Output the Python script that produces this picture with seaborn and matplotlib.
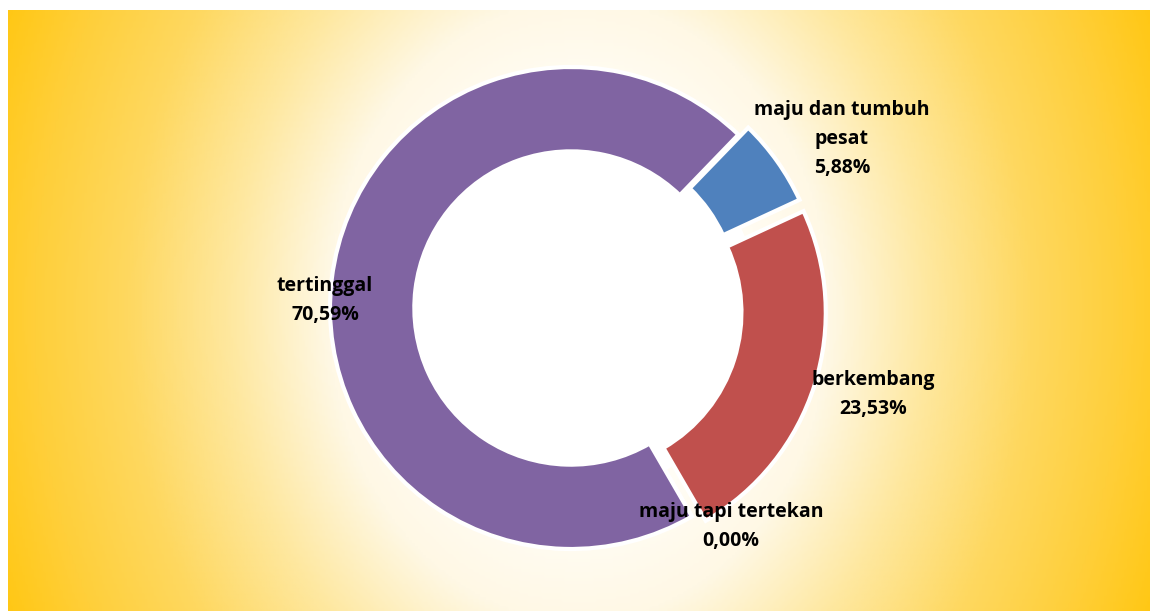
import numpy as np
import pandas as pd
import seaborn as sns
import matplotlib.pyplot as plt
from matplotlib.colors import LinearSegmentedColormap
from matplotlib.patches import Circle

# kategori dan persentase
categories = ["maju dan tumbuh\npesat", "berkembang", "maju tapi tertekan", "tertinggal"]
values = [5.88, 23.53, 0.00, 70.59]
colors = ["#4F81BD", "#C0504D", "#9BBB59", "#8064A2"]
explode = [0.05, 0.06, 0.0, 0.0]
# posisi label (data coords, radius = 1)
label_xy = [(1.124, 0.70), (1.253, -0.36), (0.664, -0.905), (-1.021, 0.03)]

df = pd.DataFrame({"kategori": categories, "persen": values})

sns.set_theme(style="white")
plt.rcParams["font.family"] = ["Open Sans", "DejaVu Sans"]

W, H = 1150, 611
fig = plt.figure(figsize=(W / 100, H / 100), dpi=100)
fig.patch.set_facecolor("white")

# latar belakang gradien
bg = fig.add_axes([8 / W, 0, (W - 8) / W, (H - 10) / H])
xx = np.linspace(-1, 1, 400)
yy = np.linspace(-1, 1, 200)
X, Y = np.meshgrid(xx, yy)
D = np.sqrt(X ** 2 + 0.18 * Y ** 2) / 1.1
cmap = LinearSegmentedColormap.from_list(
    "bg", [(0, "#FFFFFF"), (0.27, "#FFFDF5"), (0.40, "#FFF8E5"), (0.555, "#FEE8A0"),
           (0.72, "#FED860"), (0.87, "#FFCF3A"), (1, "#FFC712")], N=256)
bg.imshow(D, cmap=cmap, aspect="auto", extent=[0, 1, 0, 1], vmin=0, vmax=1)
bg.set_axis_off()

# donut
cx, cy, r = 571, 308, 241
lim = 1.26
side = 2 * lim * r
ax = fig.add_axes([(cx - side / 2) / W, (H - cy - side / 2) / H, side / W, side / H])
ax.set_facecolor("none")
ax.add_patch(Circle((0, 0), 0.78, facecolor="white", edgecolor="none", zorder=0))
wedges, _ = ax.pie(
    df["persen"].replace(0, 1e-9), colors=colors, explode=explode,
    startangle=46, counterclock=False, radius=1,
    wedgeprops=dict(width=0.35, edgecolor="white", linewidth=3))
ax.set_xlim(-lim, lim)
ax.set_ylim(-lim, lim)
ax.set_aspect("equal")
ax.set_axis_off()

for (x, y), cat, v in zip(label_xy, df["kategori"], df["persen"]):
    ax.text(x, y, f"{cat}\n{v:.2f}%".replace(".", ","), ha="center", va="center",
            fontsize=14, fontweight="bold", color="black", linespacing=1.6,
            clip_on=False)

plt.savefig("out.png", dpi=100, facecolor="white")
